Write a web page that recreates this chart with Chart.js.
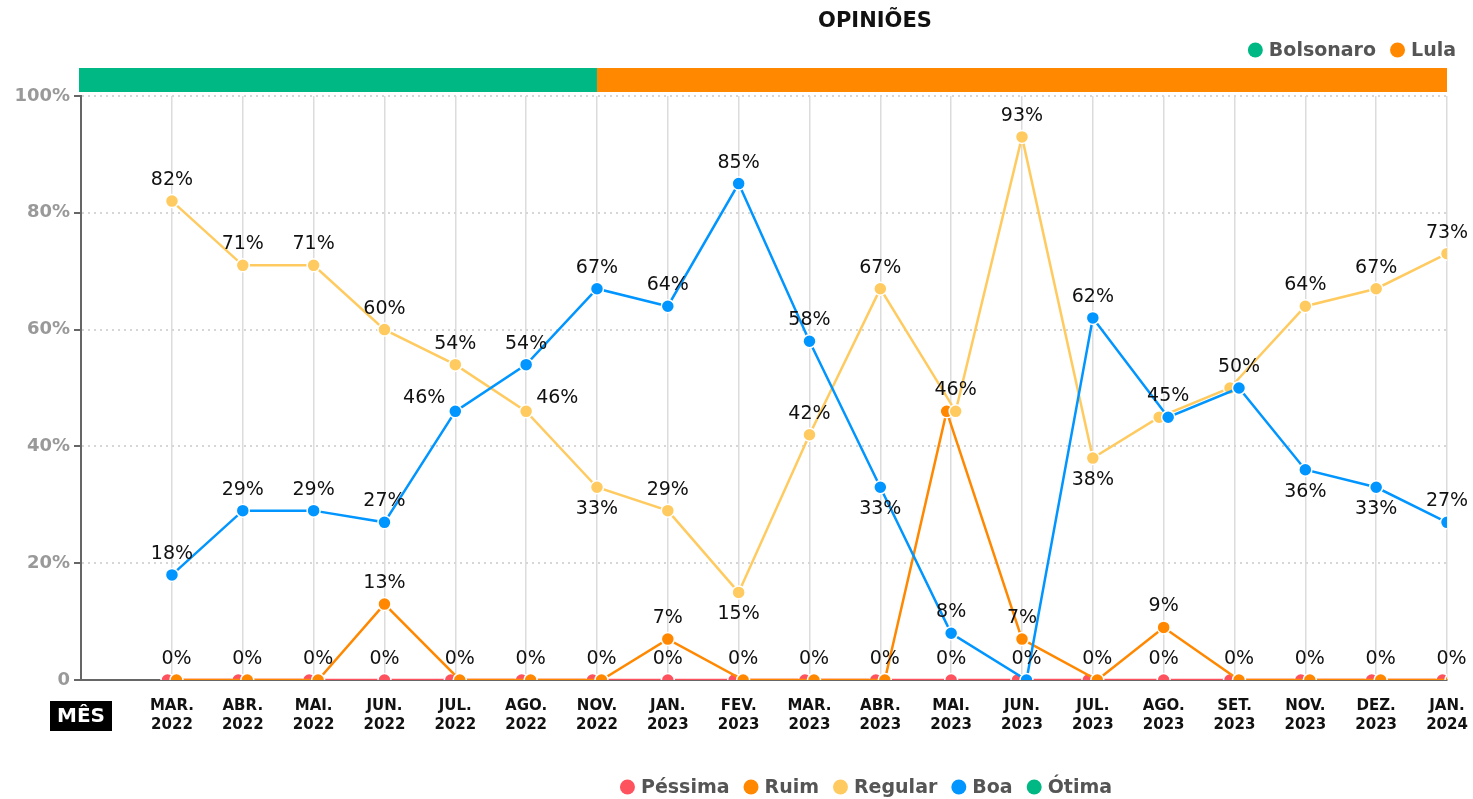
<!DOCTYPE html>
<html><head><meta charset="utf-8">
<script src="https://cdn.jsdelivr.net/npm/chart.js@4.4.1/dist/chart.umd.min.js"></script>
<style>html,body{margin:0;padding:0;background:#fff}#wrap{width:1473px;height:799px;position:relative}</style>
</head><body><div id="wrap"><canvas id="c"></canvas></div>
<script>
// ---- data ----
const months = ['MAR. 2022','ABR. 2022','MAI. 2022','JUN. 2022','JUL. 2022','AGO. 2022','NOV. 2022','JAN. 2023','FEV. 2023','MAR. 2023','ABR. 2023','MAI. 2023','JUN. 2023','JUL. 2023','AGO. 2023','SET. 2023','NOV. 2023','DEZ. 2023','JAN. 2024'];
const pessima = [0,0,0,0,0,0,0,0,0,0,0,0,0,0,0,0,0,0,0];
const ruim    = [0,0,0,13,0,0,0,7,0,0,0,46,7,0,9,0,0,0,0];
const regular = [82,71,71,60,54,46,33,29,15,42,67,46,93,38,45,50,64,67,73];
const boa     = [18,29,29,27,46,54,67,64,85,58,33,8,0,62,45,50,36,33,27];
const otima   = [];
const yTicks = [0,20,40,60,80,100];
const governments = ['Bolsonaro','Lula'];
const governmentEnds = ['NOV. 2022','JAN. 2024'];
const seriesNames = ['Péssima','Ruim','Regular','Boa','Ótima'];

// ---- styles ----
const FONT = '"DejaVu Sans", sans-serif';
const seriesColors = ['#ff525f','#ff8800','#ffcb60','#0095ff','#00b884'];
const govColors = ['#00b884','#ff8800'];
const labelPlacement = {
  'Regular': {5:'right',6:'below',8:'below',13:'below'},
  'Boa': {4:'left',10:'below',16:'below',17:'below'}
};
const seriesValues = [pessima, ruim, regular, boa, otima];

const datasets = seriesNames.map((name, k) => ({
  label: name,
  data: seriesValues[k].map((v, i) => ({x: i, y: v})),
  borderColor: seriesColors[k],
  backgroundColor: seriesColors[k],
  pointBackgroundColor: seriesColors[k],
  pointBorderColor: '#fff',
  pointBorderWidth: 1.5,
  pointRadius: 6.5,
  borderWidth: 2.5,
  tension: 0,
  order: seriesNames.length - k
}));

function drawLegend(ctx, items, x, y, align) {
  ctx.save();
  ctx.font = `bold 19px ${FONT}`;
  ctx.textBaseline = 'middle';
  const r = 7.5, gapDot = 6, gapItem = 14;
  const widths = items.map(it => 2 * r + gapDot + ctx.measureText(it.label).width);
  const total = widths.reduce((a, b) => a + b, 0) + gapItem * (items.length - 1);
  let cx = align === 'center' ? x - total / 2 : align === 'right' ? x - total : x;
  items.forEach((it, k) => {
    ctx.fillStyle = it.color;
    ctx.beginPath(); ctx.arc(cx + r, y, r, 0, Math.PI * 2); ctx.fill();
    ctx.fillStyle = '#555';
    ctx.textAlign = 'left';
    ctx.fillText(it.label, cx + 2 * r + gapDot, y + 1);
    cx += widths[k] + gapItem;
  });
  ctx.restore();
}

const decor = {
  id: 'decor',
  afterDatasetsUpdate(chart) {
    // dodge overlapping points horizontally
    const ds = chart.data.datasets;
    for (let i = 0; i < months.length; i++) {
      const groups = {};
      ds.forEach((d, di) => {
        const p = d.data[i];
        if (!p || p.y == null) return;
        (groups[p.y] = groups[p.y] || []).push(di);
      });
      Object.values(groups).forEach(g => {
        if (g.length < 2) return;
        g.forEach((di, k) => {
          const el = chart.getDatasetMeta(di).data[i];
          if (el) el.x += (k - (g.length - 1) / 2) * 9;
        });
      });
    }
  },
  afterDatasetsDraw(chart) {
    const ctx = chart.ctx;
    ctx.save();
    ctx.font = `19px ${FONT}`;
    ctx.fillStyle = '#111';
    ctx.textBaseline = 'middle';
    const boxes = [];
    const fits = b => !boxes.some(o => b.x1 < o.x2 && b.x2 > o.x1 && b.y1 < o.y2 && b.y2 > o.y1);
    for (let di = chart.data.datasets.length - 1; di >= 0; di--) {
      const d = chart.data.datasets[di];
      const meta = chart.getDatasetMeta(di);
      const place = labelPlacement[d.label] || {};
      d.data.forEach((p, i) => {
        const el = meta.data[i];
        if (!el || p.y == null) return;
        const txt = p.y + '%';
        const w = ctx.measureText(txt).width, h = 16;
        const pos = place[i] || 'above';
        let x = el.x, y = el.y - 21, align = 'center';
        if (pos === 'below') y = el.y + 22;
        if (pos === 'right') { x = el.x + 10; y = el.y - 13; align = 'left'; }
        if (pos === 'left') { x = el.x - 10; y = el.y - 13; align = 'right'; }
        const x1 = align === 'center' ? x - w / 2 : align === 'left' ? x : x - w;
        const b = {x1, x2: x1 + w, y1: y - h / 2, y2: y + h / 2};
        if (!fits(b)) return;
        boxes.push(b);
        ctx.textAlign = align;
        ctx.fillText(txt, x, y);
      });
    }
    ctx.restore();
  },
  afterDraw(chart) {
    const ctx = chart.ctx, area = chart.chartArea, xs = chart.scales.x;
    ctx.save();
    // title
    ctx.font = `bold 21px ${FONT}`;
    ctx.fillStyle = '#111';
    ctx.textAlign = 'center';
    ctx.textBaseline = 'middle';
    ctx.fillText('OPINIÕES', 875, 22);
    // government bar
    let start = area.left - 2;
    governments.forEach((g, k) => {
      const end = xs.getPixelForValue(months.indexOf(governmentEnds[k]));
      ctx.fillStyle = govColors[k];
      ctx.fillRect(start, area.top - 28, end - start, 24);
      start = end;
    });
    // MÊS box
    ctx.fillStyle = '#000';
    ctx.fillRect(area.left - 31, area.bottom + 21, 62, 30);
    ctx.fillStyle = '#fff';
    ctx.font = `bold 20px ${FONT}`;
    ctx.fillText('MÊS', area.left, area.bottom + 37);
    ctx.restore();
    drawLegend(ctx, governments.map((g, k) => ({label: g, color: govColors[k]})), 1456, 50, 'right');
    drawLegend(ctx, seriesNames.map((s, k) => ({label: s, color: seriesColors[k]})), 866, 787, 'center');
  }
};

new Chart(document.getElementById('c'), {
  type: 'line',
  data: {datasets},
  options: {
    responsive: true,
    maintainAspectRatio: false,
    animation: false,
    events: [],
    layout: {padding: {top: 96, right: 26, bottom: 59, left: 0}},
    plugins: {legend: {display: false}, title: {display: false}, tooltip: {enabled: false}},
    scales: {
      x: {
        type: 'linear',
        min: -1.284,
        max: months.length - 1,
        afterBuildTicks: s => { s.ticks = months.map((_, i) => ({value: i})); },
        afterFit: s => { s.height = 60; s.paddingLeft = 0; s.paddingRight = 0; },
        grid: {color: '#dcdcdc', lineWidth: 1.5, drawTicks: false},
        border: {display: true, color: '#666', width: 2},
        ticks: {
          autoSkip: false, maxRotation: 0, padding: 17,
          color: '#111',
          font: {family: FONT, size: 15, weight: 'bold', lineHeight: 1.25},
          callback: v => months[v] ? months[v].split(' ') : ''
        }
      },
      y: {
        min: 0, max: 100,
        afterBuildTicks: s => { s.ticks = yTicks.map(v => ({value: v})); },
        afterFit: s => { s.width = 81; },
        grid: {color: '#d6d6d6', lineWidth: 2, drawTicks: true, tickLength: 7, tickColor: '#666', tickWidth: 2, tickBorderDash: []},
        border: {display: true, color: '#666', width: 2, dash: [2, 4]},
        ticks: {
          padding: 4, color: '#999',
          font: {family: FONT, size: 18, weight: 'bold'},
          callback: v => v === 0 ? '0' : v + '%'
        }
      }
    }
  },
  plugins: [decor]
});
</script>
</body></html>
